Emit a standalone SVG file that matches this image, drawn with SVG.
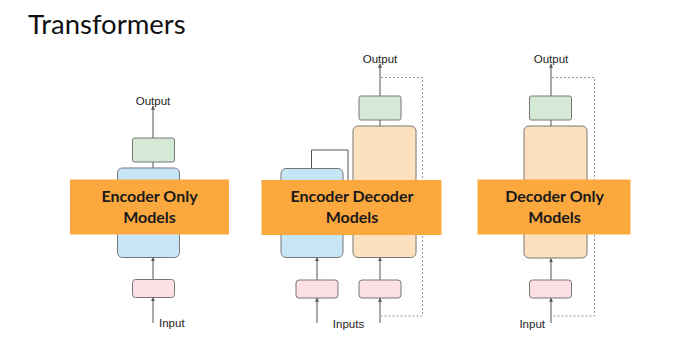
<svg xmlns="http://www.w3.org/2000/svg" width="700" height="343" viewBox="0 0 700 343">
<defs>
<marker id="ah" viewBox="0 0 6 6" refX="5.5" refY="3" markerWidth="4" markerHeight="4" orient="auto">
<path d="M0,0 L6,3 L0,6 z" fill="#555"/>
</marker>
<style>
.title{font-family:Lato,"Open Sans",sans-serif;font-size:27.5px;fill:#111}
.band{fill:#fba83e}
.bl{font-family:Lato,"Open Sans",sans-serif;font-size:16px;font-weight:bold;fill:#1a1a1a;text-anchor:middle}
.lbl{font-family:"Liberation Sans",Arial,sans-serif;font-size:11.5px;fill:#222}
.box{stroke:#777;stroke-width:1}
.green{fill:#d4e9d6}
.blue{fill:#c6e6f8}
.peach{fill:#fde1bf}
.pink{fill:#fde0e6}
.arr{stroke:#555;stroke-width:1;fill:none;marker-end:url(#ah)}
.ln{stroke:#555;stroke-width:1;fill:none}
.dot{stroke:#999;stroke-width:1;stroke-dasharray:2,2;fill:none}
</style>
</defs>
<rect width="700" height="343" fill="#fff"/>
<text class="title" x="28" y="34">Transformers</text>

<g id="connectors">
<line class="arr" x1="153" y1="138" x2="153" y2="106"/>
<line class="ln" x1="153" y1="162" x2="153" y2="168"/>
<line class="arr" x1="153" y1="279" x2="153" y2="257.5"/>
<line class="arr" x1="153" y1="323" x2="153" y2="297.5"/>
<line class="arr" x1="380" y1="96" x2="380" y2="64"/>
<line class="ln" x1="380" y1="120" x2="380" y2="126"/>
<polyline class="ln" points="311.5,168 311.5,150 348,150 348,200"/>
<line class="arr" x1="317" y1="280" x2="317" y2="257.5"/>
<line class="arr" x1="317" y1="323" x2="317" y2="298"/>
<line class="arr" x1="380" y1="280" x2="380" y2="257.5"/>
<line class="arr" x1="380" y1="323" x2="380" y2="298"/>
<polyline class="dot" points="381,77.5 422.5,77.5 422.5,316 381,316"/>
<line class="arr" x1="551" y1="96" x2="551" y2="64"/>
<line class="ln" x1="551" y1="120" x2="551" y2="126"/>
<line class="arr" x1="551" y1="280" x2="551" y2="258.5"/>
<line class="arr" x1="551" y1="323" x2="551" y2="298"/>
<polyline class="dot" points="552,77.5 594.5,77.5 594.5,316 552,316"/>
</g>

<g id="eo-output-label"><text class="lbl" x="153" y="105" text-anchor="middle">Output</text></g>
<g id="eo-green"><rect class="box green" x="132.5" y="138" width="42" height="24" rx="2"/></g>
<g id="eo-encoder"><rect class="box blue" x="117.5" y="168" width="62" height="89.5" rx="5"/></g>
<g id="eo-pink"><rect class="box pink" x="132.5" y="279.5" width="42" height="18" rx="3"/></g>
<g id="eo-input-label"><text class="lbl" x="159" y="327">Input</text></g>

<g id="ed-output-label"><text class="lbl" x="380" y="63" text-anchor="middle">Output</text></g>
<g id="ed-green"><rect class="box green" x="359" y="96" width="42" height="24" rx="2"/></g>
<g id="ed-decoder"><rect class="box peach" x="353" y="126" width="63" height="131.5" rx="5"/></g>
<g id="ed-encoder"><rect class="box blue" x="281" y="168.5" width="62" height="89" rx="5"/></g>
<g id="ed-pink1"><rect class="box pink" x="296" y="280" width="42" height="18" rx="3"/></g>
<g id="ed-pink2"><rect class="box pink" x="359" y="280" width="42" height="18" rx="3"/></g>
<g id="ed-input-label"><text class="lbl" x="348.5" y="327.5" text-anchor="middle">Inputs</text></g>

<g id="do-output-label"><text class="lbl" x="551" y="63" text-anchor="middle">Output</text></g>
<g id="do-green"><rect class="box green" x="529.5" y="96" width="42" height="24" rx="2"/></g>
<g id="do-decoder"><rect class="box peach" x="524" y="126" width="63" height="132" rx="5"/></g>
<g id="do-pink"><rect class="box pink" x="529.5" y="280" width="42" height="18" rx="3"/></g>
<g id="do-input-label"><text class="lbl" x="545" y="327.5" text-anchor="end">Input</text></g>

<g id="band-encoder-only">
<rect class="band" x="70" y="179.5" width="159" height="55"/>
<text class="bl" x="149.5" y="202">Encoder Only</text>
<text class="bl" x="149.5" y="222.5">Models</text>
</g>
<g id="band-encoder-decoder">
<rect class="band" x="261.5" y="180" width="180" height="55"/>
<text class="bl" x="352" y="202">Encoder Decoder</text>
<text class="bl" x="352" y="222.5">Models</text>
</g>
<g id="band-decoder-only">
<rect class="band" x="477.5" y="179.5" width="153" height="55"/>
<text class="bl" x="554.5" y="202">Decoder Only</text>
<text class="bl" x="554.5" y="222.5">Models</text>
</g>
</svg>
